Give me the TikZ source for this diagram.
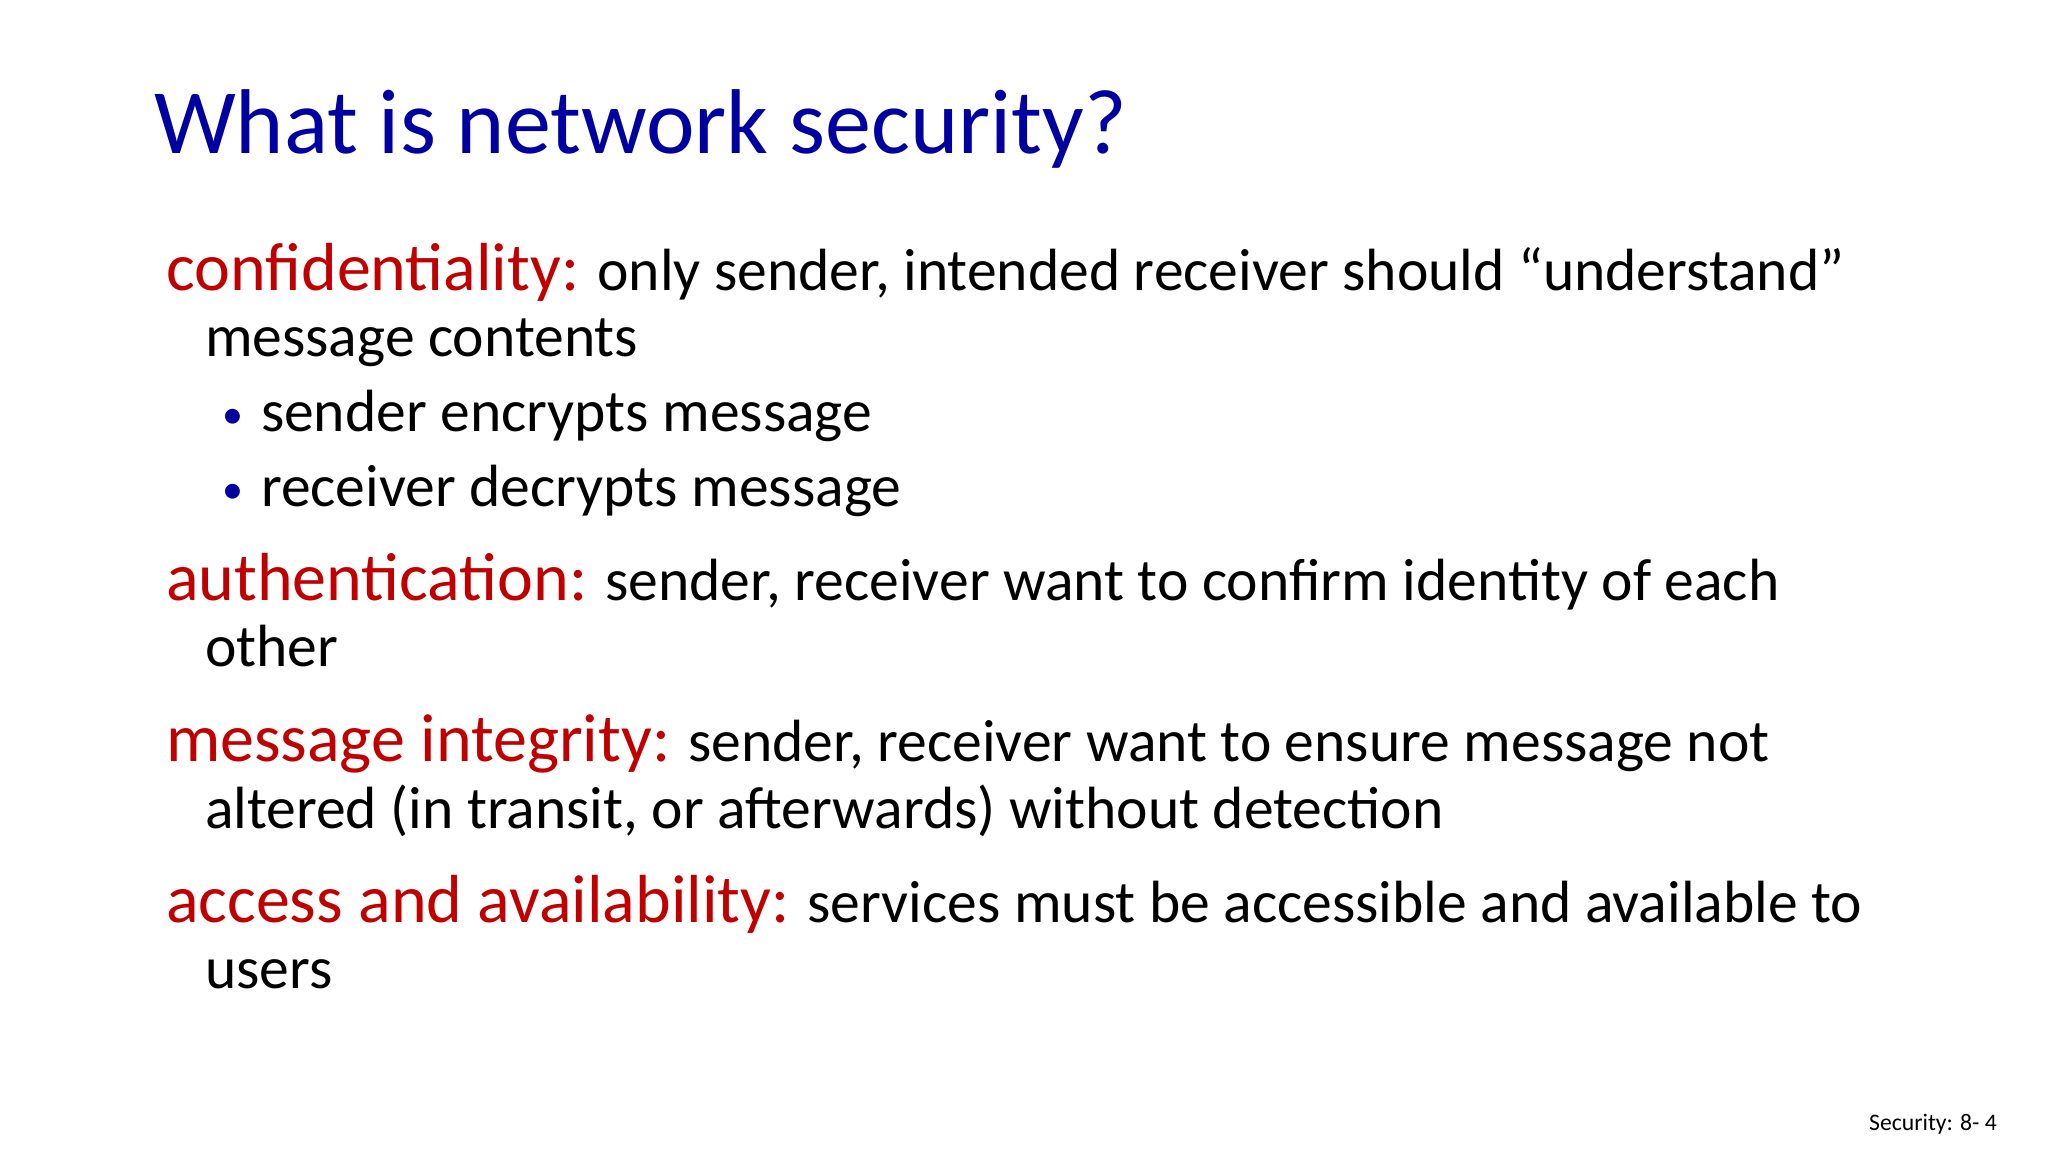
\documentclass[tikz,border=0pt]{standalone}
\usepackage{fontspec}
\setmainfont{Carlito}
\begin{document}
\begin{tikzpicture}[x=1pt,y=-1pt,
 t/.style={anchor=base west,inner sep=0pt,outer sep=0pt},
 body/.style={t,font=\fontsize{59.6}{66}\selectfont}]
\definecolor{ttl}{RGB}{0,0,160}
\definecolor{rd}{RGB}{192,0,0}
\newcommand{\rdtxt}[1]{{\color{rd}\fontsize{68}{74}\selectfont #1}}
\useasboundingbox (0,0) rectangle (2048,1152);
\node[t,font=\fontsize{92}{100}\selectfont,text=ttl] (title) at (154,153) {What is network security?};
\node[body] (l1) at (166,290) {\rdtxt{confidentiality:} only sender, intended receiver should “understand”};
\node[body] (l2) at (205,356) {message contents};
\node[body,text=ttl,font=\fontsize{42}{50}\selectfont] (b1) at (222,428) {•};
\node[body] (l3) at (261,431) {sender encrypts message};
\node[body,text=ttl,font=\fontsize{42}{50}\selectfont] (b2) at (222,503) {•};
\node[body] (l4) at (261,506) {receiver decrypts message};
\node[body] (l5) at (166,600) {\rdtxt{authentication:} sender, receiver want to confirm identity of each};
\node[body] (l6) at (205,666) {other};
\node[body] (l7) at (166,761) {\rdtxt{message integrity:} sender, receiver want to ensure message not};
\node[body] (l8) at (205,828) {altered (in transit, or afterwards) without detection};
\node[body] (l9) at (166,922) {\rdtxt{access and availability:} services must be accessible and available to};
\node[body] (l10) at (205,988) {users};
\node[anchor=base east,inner sep=0pt,font=\fontsize{23.7}{26}\selectfont] (ft) at (1997,1130) {Security: 8- 4};
\end{tikzpicture}
\end{document}
